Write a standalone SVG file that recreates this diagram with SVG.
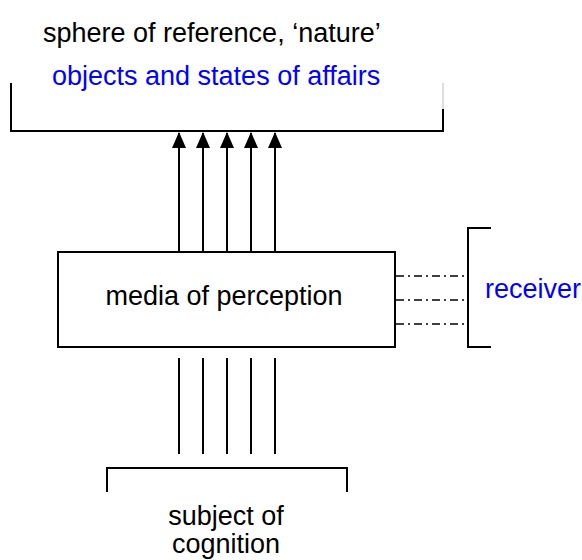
<svg xmlns="http://www.w3.org/2000/svg" width="582" height="560" viewBox="0 0 582 560">
<defs>
<style>
.t{font-family:"Liberation Sans",Arial,sans-serif;font-size:27px;fill:#000}
.b{fill:#0000ff}
.ln{stroke:#000;stroke-width:2;fill:none}
.dd{stroke:#000;stroke-width:1.5;fill:none;stroke-dasharray:8,4,2,4}
</style>
<marker id="ah" markerWidth="16" markerHeight="15" refX="15" refY="7.5" orient="auto" markerUnits="userSpaceOnUse" viewBox="0 0 16 15">
<path d="M0,0.5 L16,7.5 L0,14.5 Z" fill="#000"/>
</marker>
</defs>
<rect width="582" height="560" fill="#fff"/>
<g id="nature">
<text class="t" x="43" y="42">sphere of reference, ‘nature’</text>
<text class="t b" x="52" y="85">objects and states of affairs</text>
<path class="ln" d="M11,83 V131 H443 V109"/>
<path d="M443,83 V109" stroke="#bbb" stroke-width="1"/>
</g>
<g id="media">
<rect class="ln" x="58" y="252" width="337" height="95"/>
<text class="t" x="224" y="305" text-anchor="middle">media of perception</text>
</g>
<g id="receiver">
<path class="ln" d="M491,228 H468 V347 H491"/>
<text class="t b" x="485" y="298">receiver</text>
</g>
<g id="subject">
<path class="ln" d="M107,492 V468 H347 V492"/>
<text class="t" x="226" y="525" text-anchor="middle">subject of</text>
<text class="t" x="226" y="553" text-anchor="middle">cognition</text>
</g>
<g id="connectors">
<g class="ln" marker-end="url(#ah)">
<path d="M179,252 V133"/>
<path d="M203,252 V133"/>
<path d="M227,252 V133"/>
<path d="M251,252 V133"/>
<path d="M275,252 V133"/>
</g>
<g class="ln">
<path d="M179,358 V454"/>
<path d="M203,358 V454"/>
<path d="M227,358 V454"/>
<path d="M251,358 V454"/>
<path d="M275,358 V454"/>
</g>
<g class="dd">
<path d="M396,276 H467"/>
<path d="M396,300 H467"/>
<path d="M396,324 H467"/>
</g>
</g>
</svg>
